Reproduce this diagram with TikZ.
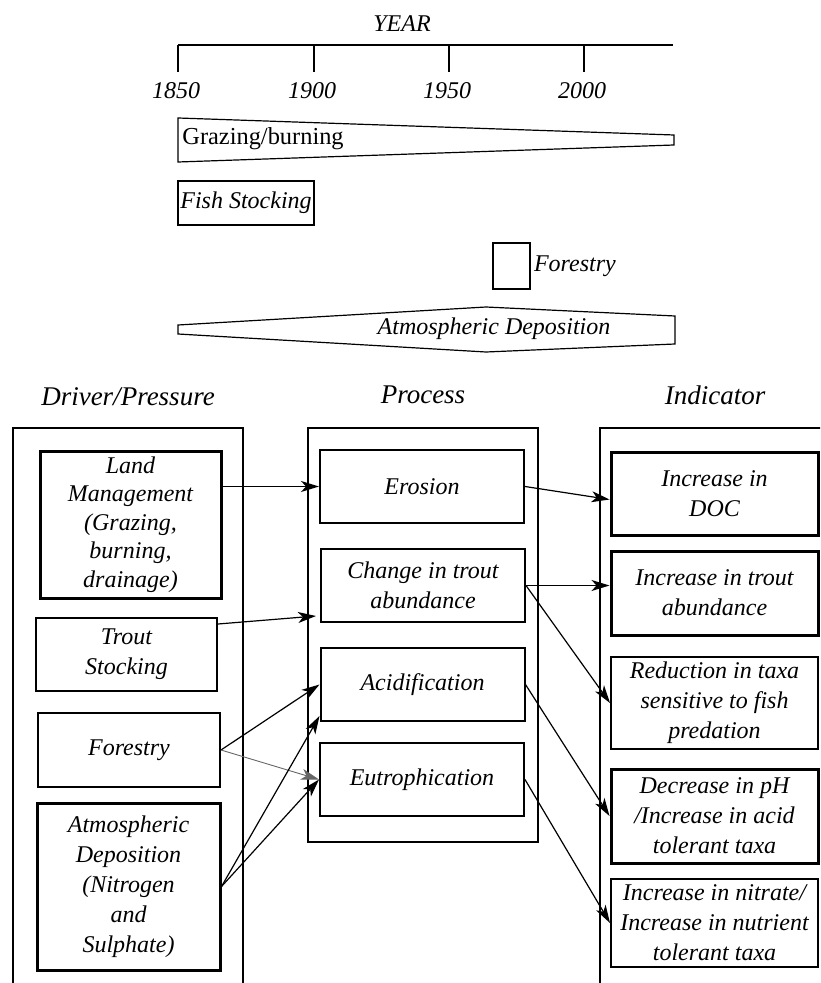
\documentclass[tikz,border=0pt]{standalone}
\usepackage{fontspec}
\setmainfont{Liberation Serif}
\usetikzlibrary{arrows.meta, positioning, calc}

\begin{document}
\begin{tikzpicture}[
    x=0.5pt, y=-0.5pt,
    txt/.style={font=\fontsize{12}{15}\selectfont\itshape, align=center},
    head/.style={font=\fontsize{13.5}{16}\selectfont\itshape},
    yr/.style={font=\fontsize{12}{14}\selectfont\itshape},
    box/.style={txt, rectangle, draw, line width=1pt, inner sep=0pt,
                minimum width=102pt, minimum height=36.5pt},
    tbox/.style={box, line width=1.5pt},
    frame/.style={rectangle, draw, line width=0.8pt, minimum width=115pt},
    band/.style={draw, line width=0.6pt},
    arrow/.style={->, line width=0.6pt, >={Stealth[length=9pt,width=5.5pt,inset=2.5pt]}},
    tarrow/.style={arrow, line width=0.45pt, gray!80!black}
]

\useasboundingbox (0,0) rectangle (820,983);
\clip (0,0) rectangle (820,983);

%% --- Time line ---
\node[yr] (year) at (402,24) {YEAR};
\draw[band] (178,45) -- (673,45);
\foreach \x/\lab in {178/1850, 314/1900, 449/1950, 584/2000} {
    \draw[band] (\x,45) -- (\x,72);
    \node[yr] (y\lab) at (\x-2,91) {\lab};
}

%% --- Pressure bands ---
\draw[band] (178,118) -- (674,135) -- (674,145) -- (178,162) -- cycle;
\node[anchor=west, inner sep=0pt, font=\fontsize{12.2}{14}\selectfont] (graze) at (182,139) {Grazing/burning};

\node[txt, draw, line width=0.6pt, inner sep=0pt, minimum width=68pt, minimum height=22pt] (fish) at (246,203) {Fish Stocking};

\node[draw, line width=0.6pt, inner sep=0pt, minimum width=18.5pt, minimum height=23pt] (forbox) at (511.5,266) {};
\node[txt, inner sep=0pt, right=1.5pt of forbox] (forlab) {Forestry};

\draw[band] (178,325) -- (486,307) -- (675,316) -- (675,344) -- (486,352) -- (178,334) -- cycle;
\node[txt] (deplab) at (494,329) {Atmospheric Deposition};

%% --- Column headings and frames ---
\node[head] (hdriver) at (128,397) {Driver/Pressure};
\node[head] (hproc)   at (423,395) {Process};
\node[head] (hind)    at (715,395) {Indicator};

\node[frame, minimum height=290pt] (fdriver) at (128,718) {};
\node[frame, minimum height=207pt] (fproc)   at (423,635) {};
\node[frame, minimum width=120pt, minimum height=290pt] (find) at (720,718) {};

%% --- Drivers ---
\node[tbox, minimum width=90.5pt, minimum height=73.5pt, font=\fontsize{12}{14.2}\selectfont\itshape] (landm) at (130.5,524.5)
      {Land\\Management\\(Grazing,\\burning,\\drainage)};
\node[box, minimum width=90.5pt] (trout) at (126.5,654.5) {Trout\\Stocking};
\node[box, minimum width=91pt, minimum height=37pt] (forest) at (129,750) {Forestry};
\node[tbox, minimum width=91.5pt, minimum height=83.5pt] (atmos) at (128.5,886.5)
      {Atmospheric\\Deposition\\(Nitrogen\\and\\Sulphate)};

%% --- Processes ---
\node[box] (erosion) at (422,486.5)   {Erosion};
\node[box] (change)  at (423,585.5)   {Change in trout\\abundance};
\node[box] (acid)    at (422.5,684.5) {Acidification};
\node[box] (eutro)   at (422,779.5)   {Eutrophication};

%% --- Indicators ---
\node[tbox, minimum width=103.5pt, minimum height=41.5pt] (doc)    at (714.5,493.5) {Increase in\\DOC};
\node[tbox, minimum width=103.5pt, minimum height=42pt]   (tabund) at (714.5,593)   {Increase in trout\\abundance};
\node[box,  minimum width=103.5pt, minimum height=46pt]   (reduct) at (714.5,703)   {Reduction in taxa\\sensitive to fish\\predation};
\node[tbox, minimum width=103.5pt, minimum height=47pt]   (ph)     at (714.5,816)   {Decrease in pH\\/Increase in acid\\tolerant taxa};
\node[box,  minimum width=103.5pt, minimum height=44pt]   (nitrate) at (714.5,923)  {Increase in nitrate/\\Increase in nutrient\\tolerant taxa};

%% --- Driver to process ---
\draw[arrow] (landm.east |- erosion.west) -- (erosion.west);
\draw[arrow] ($(trout.north east)+(0,7)$) -- ($(change.south west)+(-4,-7)$);
\draw[arrow] (forest.east) -- (acid.west);
\draw[tarrow] (forest.east) -- (eutro.west);
\draw[arrow] (atmos.east) -- ($(acid.south west)+(0,-6)$);
\draw[arrow] (atmos.east) -- (eutro.west);

%% --- Process to indicator ---
\draw[arrow] (erosion.east) -- ($(doc.west)+(0,6)$);
\draw[arrow] (change.east) -- (change.east -| tabund.west);
\draw[arrow] (change.east) -- (reduct.west);
\draw[arrow] (acid.east)   -- (ph.west);
\draw[arrow] (eutro.east)  -- (nitrate.west);

\end{tikzpicture}
\end{document}
